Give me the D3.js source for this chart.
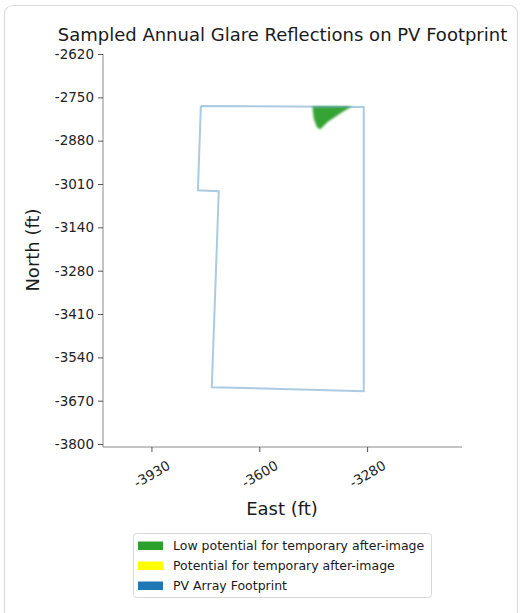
<!DOCTYPE html>
<html>
<head>
<meta charset="utf-8">
<script src="https://cdn.jsdelivr.net/npm/d3@7"></script>
<style>
  html, body { margin: 0; padding: 0; background: #fff; }
  svg { display: block; font-family: "DejaVu Sans", sans-serif; }
</style>
</head>
<body>
<svg id="chart" width="521" height="613"></svg>
<script>
// ---- data ----
const title = "Sampled Annual Glare Reflections on PV Footprint";
const xLabel = "East (ft)";
const yLabel = "North (ft)";
// PV footprint polygon vertices [east, north] in ft
const footprintEast  = [-3778, -3287, -3287, -3745, -3724, -3787, -3778];
const footprintNorth = [-2777, -2780, -3640, -3628, -3035, -3032, -2777];
// glare reflection region (low potential) vertices [east, north]
const glareEast  = [-3442, -3322, -3350, -3395, -3418, -3428, -3438];
const glareNorth = [-2779, -2779, -2795, -2825, -2848, -2842, -2815];
// axis ticks (evenly spaced values, rounded labels)
const yTickValues = [-2620, -2751.1, -2882.2, -3013.3, -3144.4, -3275.6, -3406.7, -3537.8, -3668.9, -3800];
const yTickLabels = ["-2620", "-2750", "-2880", "-3010", "-3140", "-3280", "-3410", "-3540", "-3670", "-3800"];
const xTickValues = [-3927, -3602, -3277];
const xTickLabels = ["-3930", "-3600", "-3280"];
// legend
const legendLabels = ["Low potential for temporary after-image", "Potential for temporary after-image", "PV Array Footprint"];
const legendColors = ["#2ca02c", "#ffff00", "#1f77b4"];

// ---- drawing ----
const svg = d3.select("#chart");

// card border
svg.append("rect").attr("x", 4.5).attr("y", 5.5).attr("width", 513).attr("height", 630)
  .attr("rx", 8).attr("fill", "#fff").attr("stroke", "#dcdcdc").attr("stroke-width", 1.2);

const x = d3.scaleLinear().domain([-4073, -2991]).range([103, 462]);
const y = d3.scaleLinear().domain([-2620, -3809]).range([54, 447]);

// title
svg.append("text").attr("x", 282.5).attr("y", 41).attr("text-anchor", "middle")
  .attr("font-size", 18).attr("fill", "#1a1a1a").text(title);

// glare region with blur
const defs = svg.append("defs");
defs.append("filter").attr("id", "blur").attr("x", "-20%").attr("y", "-20%").attr("width", "140%").attr("height", "140%")
  .append("feGaussianBlur").attr("stdDeviation", 1.1);

const line = d3.line().x(d => x(d[0])).y(d => y(d[1]));
const glarePts = glareEast.map((e, i) => [e, glareNorth[i]]);
svg.append("path").attr("d", line(glarePts) + "Z").attr("fill", legendColors[0])
  .attr("opacity", 0.95).attr("filter", "url(#blur)");

// footprint
const fpPts = footprintEast.map((e, i) => [e, footprintNorth[i]]);
svg.append("path").attr("d", line(fpPts)).attr("fill", "none")
  .attr("stroke", legendColors[2]).attr("stroke-opacity", 0.38).attr("stroke-width", 2);

// axes
const tickColor = "#555";
const yAxis = d3.axisLeft(y).tickValues(yTickValues).tickFormat((d, i) => yTickLabels[i]).tickSize(5).tickPadding(4);
const gy = svg.append("g").attr("transform", "translate(103,0)").call(yAxis);
gy.select(".domain").attr("stroke", "#888").attr("d", `M0,${y(-2620)}V${y(-3809)}`);
gy.selectAll(".tick line").attr("stroke", tickColor);
gy.selectAll(".tick text").attr("font-size", 13.5).attr("fill", "#222").attr("font-family", "DejaVu Sans");

const xAxis = d3.axisBottom(x).tickValues(xTickValues).tickFormat((d, i) => xTickLabels[i]).tickSize(5);
const gx = svg.append("g").attr("transform", "translate(0,447)").call(xAxis);
gx.select(".domain").attr("stroke", "#888").attr("d", `M${x(-4073)},0H${x(-2991)}`);
gx.selectAll(".tick line").attr("stroke", tickColor);
gx.selectAll(".tick text").attr("font-size", 13.5).attr("fill", "#222").attr("font-family", "DejaVu Sans")
  .attr("y", 0).attr("dy", "0.35em").attr("text-anchor", "middle")
  .attr("transform", "translate(0,27) rotate(-30)");

// axis labels
svg.append("text").attr("x", 282).attr("y", 515).attr("text-anchor", "middle")
  .attr("font-size", 18).attr("fill", "#1a1a1a").text(xLabel);
svg.append("text").attr("transform", "translate(39,250) rotate(-90)").attr("text-anchor", "middle")
  .attr("font-size", 18).attr("fill", "#1a1a1a").text(yLabel);

// legend
const lg = svg.append("g");
lg.append("rect").attr("x", 133.5).attr("y", 533.5).attr("width", 298).attr("height", 64)
  .attr("rx", 3).attr("fill", "#fff").attr("stroke", "#d8d8d8");
legendLabels.forEach((lab, i) => {
  const cy = 545.5 + i * 20;
  lg.append("rect").attr("x", 138).attr("y", cy - 4).attr("width", 25).attr("height", 8.5).attr("fill", legendColors[i]);
  lg.append("text").attr("x", 173).attr("y", cy).attr("dy", "0.35em").attr("font-size", 12.5).attr("fill", "#1a1a1a").text(lab);
});
</script>
</body>
</html>
